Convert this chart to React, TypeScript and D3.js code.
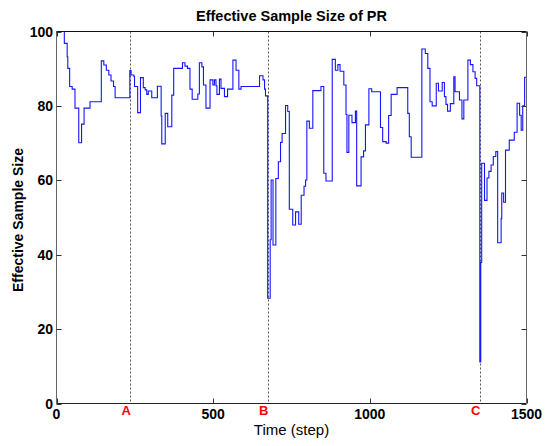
import React from "react";
import * as d3 from "d3";

// Change points of the step series: [time step, effective sample size]
const steps: number[] = [
  0, 25, 34, 36, 42, 50, 59, 71, 80, 88, 107, 143, 151, 159, 167, 174, 182, 187,
  234, 238, 247, 249, 259, 268, 277, 283, 288, 293, 304, 322, 334, 336, 347, 355,
  368, 374, 402, 410, 418, 426, 433, 451, 456, 464, 469, 477, 490, 499, 504, 509,
  512, 520, 525, 536, 546, 563, 573, 582, 589, 648, 659, 664, 667,
  674, 682, 685, 691, 700, 708, 715, 720, 731, 738, 743, 754, 763, 773, 781, 790,
  795, 799, 807, 818, 844, 853, 860, 880, 890, 898, 905, 917, 924, 927, 933, 943,
  954, 958, 972, 980, 986, 997, 1006, 1034, 1041, 1052, 1060, 1068, 1087, 1121,
  1126, 1132, 1166, 1177, 1185, 1192, 1199, 1212, 1219, 1231, 1238, 1243, 1248,
  1257, 1268, 1272, 1286, 1294, 1300, 1313, 1321, 1329, 1336, 1341,
  1351, 1354, 1357, 1366, 1374, 1380, 1387, 1394, 1402, 1408, 1419, 1421, 1427,
  1433, 1445, 1461, 1470, 1478, 1483, 1488, 1494, 1500,
];
const ess: number[] = [
  100, 96.8, 93.2, 90.1, 85.2, 84.5, 79.4, 70.1, 75.1, 79.4, 81.1, 92.1, 91.0, 89.6, 88.3, 86.7, 85.2, 82.2,
  89.5, 88.3, 87.9, 85.2, 78.2, 87.6, 84.9, 84.3, 83.1, 84.0, 82.2, 85.3, 77.3, 69.8, 78.0, 74.4,
  82.9, 90.1, 91.6, 90.7, 90.1, 84.5, 81.8, 83.2, 91.6, 90.5, 85.6, 79.4, 87.0, 85.6, 87.0, 85.4,
  83.1, 87.2, 84.7, 82.5, 84.5, 92.3, 89.6, 84.5, 85.2, 88.1, 87.0, 84.5, 82.7,
  28.3, 44.0, 60.1, 42.6, 60.5, 65.0, 70.2, 72.6, 80.1, 78.5, 52.2, 48.0, 51.5, 48.2, 56.0, 58.4,
  60.1, 75.9, 74.0, 84.1, 85.2, 61.9, 59.8, 92.5, 89.6, 91.1, 89.3, 85.6, 77.7, 67.5, 77.5, 75.5,
  78.6, 58.5, 66.3, 67.9, 74.9, 84.6, 83.8, 74.2, 70.4, 70.0, 77.4, 83.1, 84.9, 78.0,
  71.7, 66.2, 95.3, 94.1, 90.1, 81.1, 80.0, 86.1, 84.0, 86.3, 82.5, 80.4, 78.6,
  80.6, 87.8, 83.8, 81.6, 76.5, 81.6, 92.3, 91.1, 89.2, 87.4, 85.4,
  11.2, 37.9, 64.6, 54.6, 60.6, 62.4, 64.1, 66.4, 67.7, 43.2, 49.7, 56.6, 54.1,
  68.1, 70.8, 72.9, 80.7, 77.5, 73.5, 80.0, 87.7, 87.7,
];

const xTicks: number[] = [0, 500, 1000, 1500];
const yTicks: number[] = [0, 20, 40, 60, 80, 100];
const eventNames: string[] = ["A", "B", "C"];
const eventSteps: number[] = [235, 674, 1351];

const title = "Effective Sample Size of PR";
const xLabel = "Time (step)";
const yLabel = "Effective Sample Size";

export default function App() {
  const W = 546;
  const H = 446;
  const left = 56.5;
  const right = 526.5;
  const top = 31.5;
  const bottom = 403.5;

  const x = d3.scaleLinear().domain([0, 1500]).range([left, right]);
  const y = d3.scaleLinear().domain([0, 100]).range([bottom, top]);

  const pts: [number, number][] = steps.map((s, i) => [s, ess[i]]);
  const line = d3
    .line<[number, number]>()
    .x((d) => x(d[0]))
    .y((d) => y(d[1]))
    .curve(d3.curveStepAfter);

  const font = "'Liberation Sans', Arial, Helvetica, sans-serif";
  const tickLen = 5;

  return (
    <svg
      width={W}
      height={H}
      style={{ position: "fixed", left: 0, top: 0, background: "#fff" }}
      fontFamily={font}
    >
      <rect x={0} y={0} width={W} height={H} fill="#fff" />
      {/* event lines */}
      {eventSteps.map((s, i) => (
        <line
          key={"ev" + i}
          x1={Math.round(x(s)) + 0.5}
          x2={Math.round(x(s)) + 0.5}
          y1={top}
          y2={bottom}
          stroke="#555"
          strokeWidth={1}
          strokeDasharray="2,2"
        />
      ))}
      {/* data */}
      <path d={line(pts) || ""} fill="none" stroke="#1515ff" strokeWidth={1.1} />
      {/* box */}
      <line x1={left} x2={right} y1={top} y2={top} stroke="#111" />
      <line x1={left} x2={right} y1={bottom} y2={bottom} stroke="#222" />
      <line x1={left} x2={left} y1={top} y2={bottom} stroke="#666" />
      <line x1={right} x2={right} y1={top} y2={bottom} stroke="#666" />
      {/* x ticks */}
      {xTicks.map((t) => (
        <g key={"xt" + t}>
          <line x1={Math.round(x(t)) + 0.5} x2={Math.round(x(t)) + 0.5} y1={bottom} y2={bottom - tickLen} stroke="#333" />
          <line x1={Math.round(x(t)) + 0.5} x2={Math.round(x(t)) + 0.5} y1={top} y2={top + tickLen} stroke="#333" />
          <text x={x(t)} y={419} textAnchor="middle" fontSize={14} fontWeight="bold" fill="#000">
            {t}
          </text>
        </g>
      ))}
      {/* y ticks */}
      {yTicks.map((t) => (
        <g key={"yt" + t}>
          <line x1={left} x2={left + tickLen} y1={Math.round(y(t)) + 0.5} y2={Math.round(y(t)) + 0.5} stroke="#333" />
          <line x1={right} x2={right - tickLen} y1={Math.round(y(t)) + 0.5} y2={Math.round(y(t)) + 0.5} stroke="#333" />
          <text x={53} y={y(t)} dy="0.36em" textAnchor="end" fontSize={14} fontWeight="bold" fill="#000">
            {t}
          </text>
        </g>
      ))}
      {/* event letters */}
      {eventNames.map((n, i) => (
        <text
          key={"en" + i}
          x={x(eventSteps[i]) - 4}
          y={415}
          textAnchor="middle"
          fontSize={13}
          fontWeight="bold"
          fill="#ff0000"
        >
          {n}
        </text>
      ))}
      {/* title and labels */}
      <text x={(left + right) / 2} y={21} textAnchor="middle" fontSize={14.5} fontWeight="bold" fill="#000">
        {title}
      </text>
      <text x={(left + right) / 2} y={435} textAnchor="middle" fontSize={15} fill="#000">
        {xLabel}
      </text>
      <text
        transform={`translate(23, 220) rotate(-90)`}
        textAnchor="middle"
        fontSize={14}
        fontWeight="bold"
        fill="#000"
      >
        {yLabel}
      </text>
    </svg>
  );
}
